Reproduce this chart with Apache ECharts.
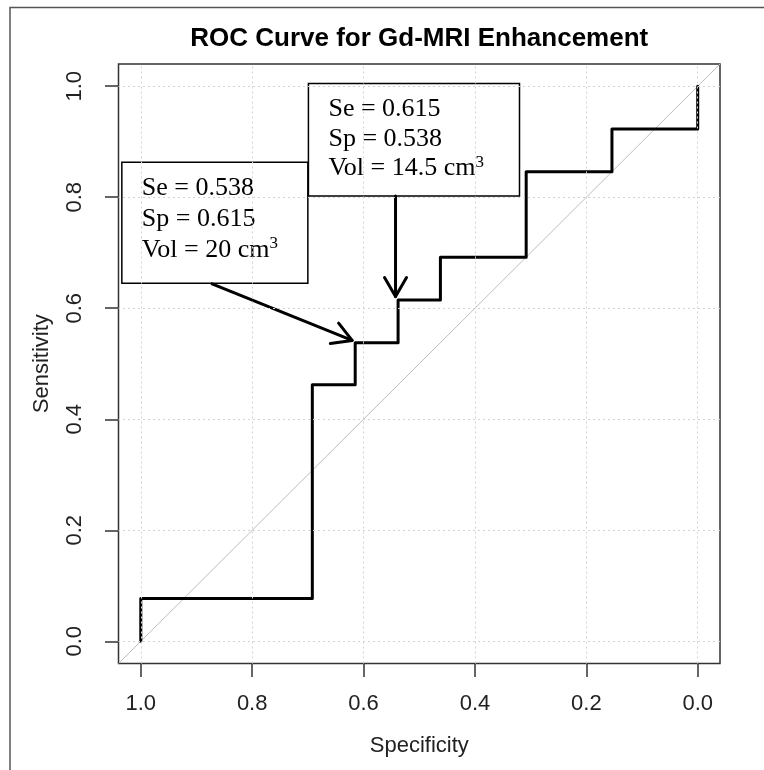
<!DOCTYPE html>
<html>
<head>
<meta charset="utf-8">
<title>ROC Curve for Gd-MRI Enhancement</title>
<script src="https://cdn.jsdelivr.net/npm/echarts@6/dist/echarts.min.js"></script>
<style>
  html, body { margin: 0; padding: 0; background: #ffffff; }
  #chart { width: 764px; height: 770px; }
</style>
</head>
<body>
<div id="chart"></div>
<script>
// ROC curve points (specificity, sensitivity), in drawing order
const specificity = [1, 1, 0.692, 0.692, 0.615, 0.615, 0.538, 0.538, 0.462, 0.462, 0.308, 0.308, 0.154, 0.154, 0, 0];
const sensitivity = [0, 0.077, 0.077, 0.462, 0.462, 0.538, 0.538, 0.615, 0.615, 0.692, 0.692, 0.846, 0.846, 0.923, 0.923, 1];

// Axis ticks (both axes)
const tickValues = [0, 0.2, 0.4, 0.6, 0.8, 1.0];

// Highlighted cut-offs
const annoSe = [0.538, 0.615];
const annoSp = [0.615, 0.538];
const annoVol = ['20', '14.5'];

// Callout placement in data units: box [specLeft, sensTop, specRight, sensBottom],
// arrow [startSpec, startSens, tipSpec, tipSens]
const annoBox = [[1.034, 0.863, 0.700, 0.645], [0.699, 1.005, 0.320, 0.802]];
const annoArrow = [[0.872, 0.644, 0.6205, 0.542], [0.5426, 0.802, 0.5426, 0.621]];
const annoLineHeight = [31, 29.5];

// Layout
const W = 764, H = 770;
const axisMin = -0.04, axisMax = 1.04;          // 4% padding around [0, 1]
const box = { left: 118.5, top: 64, right: 720, bottom: 663.5 };
const boxW = box.right - box.left, boxH = box.bottom - box.top;
const padX = boxW * (0 - axisMin) / (axisMax - axisMin);
const padY = boxH * (0 - axisMin) / (axisMax - axisMin);
const centerX = (box.left + box.right) / 2;

const sansFont = '"Liberation Sans", Arial, sans-serif';
const serifFont = '"Liberation Serif", "Times New Roman", serif';

const curveData = specificity.map((s, i) => [s, sensitivity[i]]);
const identityData = [[axisMax, 1 - axisMax], [axisMin, 1 - axisMin]];

const gridLineStyle = { color: '#d3d3d3', width: 1, type: [2, 3] };
const gridMarks = [];
tickValues.forEach(v => {
  gridMarks.push({ xAxis: v });
  gridMarks.push({ yAxis: v });
});

const annoData = annoBox.map((b, i) => b.concat(annoArrow[i]));

function renderCallout(params, api) {
  const i = params.dataIndex;
  const tl = api.coord([api.value(0), api.value(1)]);
  const br = api.coord([api.value(2), api.value(3)]);
  const p0 = api.coord([api.value(4), api.value(5)]);
  const p1 = api.coord([api.value(6), api.value(7)]);
  const lh = annoLineHeight[i];

  // arrow head: two barbs, 30 degrees off the shaft
  const dx = p1[0] - p0[0], dy = p1[1] - p0[1];
  const len = Math.sqrt(dx * dx + dy * dy);
  const ux = dx / len, uy = dy / len;
  const headLen = 22, ang = Math.PI / 6;
  const rot = (a) => [ux * Math.cos(a) - uy * Math.sin(a), ux * Math.sin(a) + uy * Math.cos(a)];
  const r1 = rot(ang), r2 = rot(-ang);
  const b1 = [p1[0] - headLen * r1[0], p1[1] - headLen * r1[1]];
  const b2 = [p1[0] - headLen * r2[0], p1[1] - headLen * r2[1]];

  const text = '{b|Se = ' + annoSe[i].toFixed(3) + '}\n' +
               '{b|Sp = ' + annoSp[i].toFixed(3) + '}\n' +
               '{b|Vol = ' + annoVol[i] + ' cm}{sup|3}';

  return {
    type: 'group',
    children: [
      {
        type: 'rect',
        shape: { x: tl[0], y: tl[1], width: br[0] - tl[0], height: br[1] - tl[1] },
        style: { fill: '#ffffff', stroke: '#000000', lineWidth: 1.5 }
      },
      {
        type: 'text',
        x: tl[0] + 20,
        y: tl[1] + 26 - lh / 2,
        style: {
          text: text,
          align: 'left',
          verticalAlign: 'top',
          fill: '#000000',
          fontFamily: serifFont,
          fontSize: 26,
          rich: {
            b: { fontFamily: serifFont, fontSize: 26, lineHeight: lh, fill: '#000000' },
            sup: { fontFamily: serifFont, fontSize: 17, lineHeight: 22, verticalAlign: 'top', fill: '#000000' }
          }
        }
      },
      {
        type: 'line',
        shape: { x1: p0[0], y1: p0[1], x2: p1[0], y2: p1[1] },
        style: { stroke: '#000000', lineWidth: 3, lineCap: 'round' }
      },
      {
        type: 'polyline',
        shape: { points: [b1, p1, b2] },
        style: { stroke: '#000000', lineWidth: 3, lineCap: 'round', lineJoin: 'round', fill: null }
      }
    ]
  };
}

const chart = echarts.init(document.getElementById('chart'), null, { renderer: 'canvas', width: W, height: H });

const labelStyle = { fontFamily: sansFont, fontSize: 22, color: '#222222' };

chart.setOption({
  animation: false,
  backgroundColor: '#ffffff',
  grid: [
    {
      left: box.left, top: box.top, width: boxW, height: boxH,
      show: true, borderColor: '#333333', borderWidth: 1.5, backgroundColor: 'transparent',
      containLabel: false
    },
    {
      left: box.left + padX, top: box.top + padY,
      width: boxW - 2 * padX, height: boxH - 2 * padY,
      containLabel: false
    }
  ],
  xAxis: [
    { gridIndex: 0, type: 'value', min: axisMin, max: axisMax, inverse: true, show: false },
    {
      gridIndex: 1, type: 'value', min: 0, max: 1, interval: 0.2, inverse: true,
      position: 'bottom', offset: padY,
      axisLine: { show: false, onZero: false },
      axisTick: { show: true, inside: false, length: 13.5, lineStyle: { color: '#333333', width: 1.5 } },
      axisLabel: Object.assign({ margin: 29, formatter: v => v.toFixed(1) }, labelStyle),
      splitLine: { show: false },
      name: 'Specificity', nameLocation: 'middle', nameGap: 71,
      nameTextStyle: labelStyle
    }
  ],
  yAxis: [
    { gridIndex: 0, type: 'value', min: axisMin, max: axisMax, show: false },
    {
      gridIndex: 1, type: 'value', min: 0, max: 1, interval: 0.2,
      position: 'left', offset: padX,
      axisLine: { show: false, onZero: false },
      axisTick: { show: true, inside: false, length: 13.5, lineStyle: { color: '#333333', width: 1.5 } },
      axisLabel: Object.assign({ margin: 33, rotate: 90, formatter: v => v.toFixed(1) }, labelStyle),
      splitLine: { show: false },
      name: 'Sensitivity', nameLocation: 'middle', nameGap: 66,
      nameTextStyle: labelStyle
    }
  ],
  graphic: [
    {
      type: 'polyline',
      shape: { points: [[10, H], [10, 7.5], [W, 7.5]] },
      style: { stroke: '#555555', lineWidth: 1.5, fill: null },
      silent: true
    },
    {
      type: 'text',
      x: centerX, y: 39,
      style: {
        text: 'ROC Curve for Gd-MRI Enhancement',
        align: 'center', verticalAlign: 'middle',
        fontFamily: sansFont, fontWeight: 'bold', fontSize: 26, fill: '#000000'
      },
      silent: true
    }
  ],
  series: [
    {
      name: 'grid',
      type: 'line',
      xAxisIndex: 0, yAxisIndex: 0,
      data: [],
      z: 1,
      silent: true,
      markLine: {
        silent: true,
        symbol: ['none', 'none'],
        label: { show: false },
        lineStyle: gridLineStyle,
        emphasis: { disabled: true },
        animation: false,
        data: gridMarks
      }
    },
    {
      name: 'identity',
      type: 'line',
      xAxisIndex: 0, yAxisIndex: 0,
      data: identityData,
      symbol: 'none',
      z: 2,
      silent: true,
      lineStyle: { color: '#bdbdbd', width: 1 }
    },
    {
      name: 'ROC',
      type: 'line',
      xAxisIndex: 0, yAxisIndex: 0,
      data: curveData,
      symbol: 'none',
      z: 3,
      silent: true,
      lineStyle: { color: '#000000', width: 3, cap: 'round', join: 'round' }
    },
    {
      name: 'callouts',
      type: 'custom',
      xAxisIndex: 0, yAxisIndex: 0,
      data: annoData,
      encode: { x: [0, 2, 4, 6], y: [1, 3, 5, 7] },
      renderItem: renderCallout,
      clip: false,
      z: 4,
      silent: true
    }
  ]
});
</script>
</body>
</html>
